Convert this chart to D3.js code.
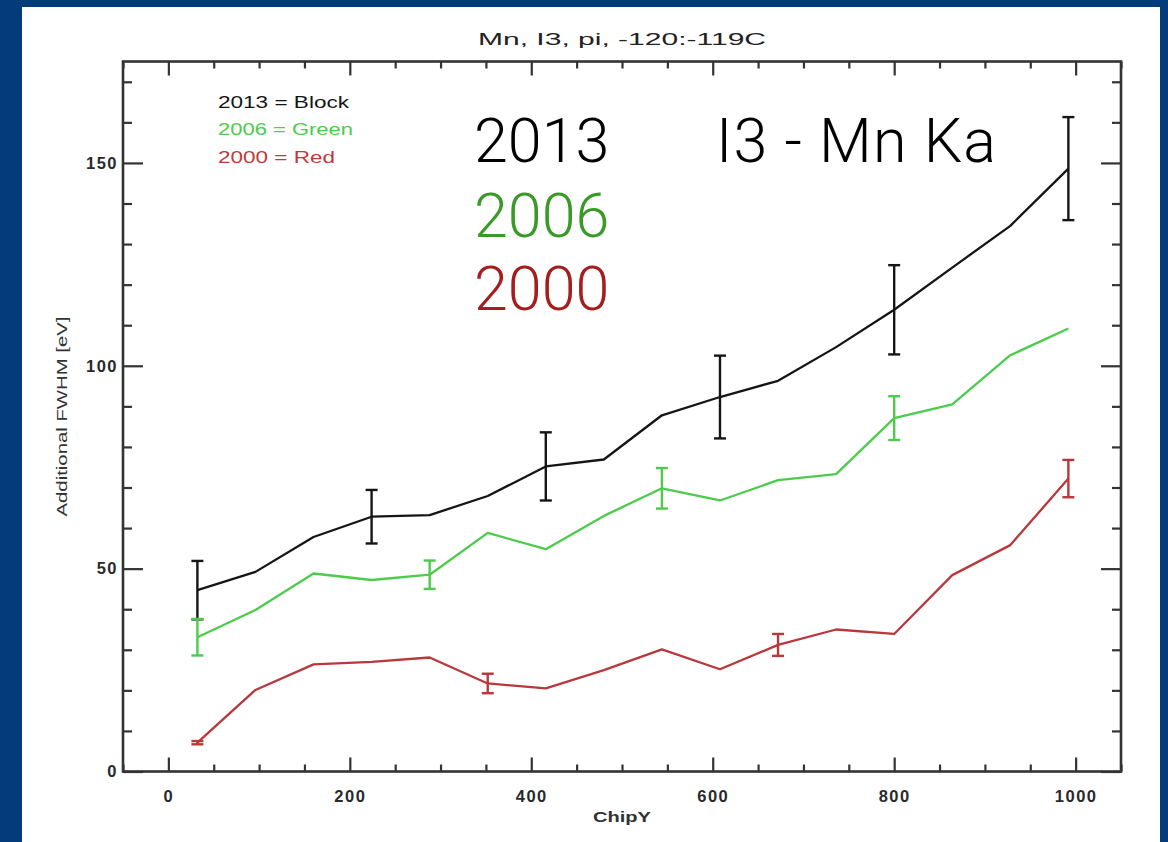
<!DOCTYPE html>
<html>
<head>
<meta charset="utf-8">
<script src="https://cdn.jsdelivr.net/npm/d3@7/dist/d3.min.js"></script>
<style>
  html, body { margin: 0; padding: 0; background: #043b7a; }
  svg { display: block; }
</style>
</head>
<body>
<svg id="chart" width="1168" height="842"></svg>
<script>
// ---- data ----
const chipY = [32, 96, 160, 224, 288, 352, 416, 480, 544, 608, 672, 736, 800, 864, 928, 992];
const fwhm2013 = [44.7, 49.2, 57.8, 62.8, 63.2, 67.9, 75.2, 76.9, 87.8, 92.3, 96.3, 104.6, 113.8, 124.2, 134.5, 148.6];
const fwhm2006 = [33.1, 39.8, 48.8, 47.2, 48.5, 58.8, 54.8, 63.0, 69.8, 66.8, 71.8, 73.3, 87.1, 90.5, 102.6, 109.2];
const fwhm2000 = [7.1, 20.1, 26.4, 27.0, 28.1, 21.7, 20.5, 25.0, 30.1, 25.2, 31.2, 35.0, 33.9, 48.4, 55.8, 72.2];
// error bars: index of point and half-height
const err2013Idx = [0, 3, 6, 9, 12, 15];
const err2013 = [7.2, 6.6, 8.4, 10.2, 11.0, 12.7];
const err2006Idx = [0, 4, 8, 12];
const err2006 = [4.5, 3.5, 5.0, 5.4];
const err2000Idx = [0, 5, 10, 15];
const err2000 = [0.4, 2.4, 2.7, 4.6];
const xMajorTicks = [0, 200, 400, 600, 800, 1000];
const yMajorTicks = [0, 50, 100, 150];
const legendLabels = ["2013 = Block", "2006 = Green", "2000 = Red"];
const bigLabels = ["2013", "2006", "2000"];
const titleText = "Mn, I3, pi, -120:-119C";
const xTitle = "ChipY";
const yTitle = "Additional FWHM [eV]";
const noteText = "I3 - Mn Ka";

// ---- layout ----
const svg = d3.select("#chart");
svg.append("rect").attr("x", 0).attr("y", 0).attr("width", 1168).attr("height", 842).attr("fill", "#043b7a");
svg.append("rect").attr("x", 22).attr("y", 7).attr("width", 1138).attr("height", 835).attr("fill", "#ffffff");

const x = d3.scaleLinear().domain([-50, 1050]).range([123, 1121]);
const y = d3.scaleLinear().domain([0, 175]).range([771.5, 61.5]);

const lineColors = ["#151515", "#4ccb4c", "#b8383c"];
const legendColors = ["#151515", "#4ccb4c", "#c0393b"];
const bigColors = ["#000000", "#3a9a27", "#a51d1d"];

const axisFont = "'Liberation Sans', Arial, sans-serif";
const axisColor = "#333";

// minor ticks
const xMinor = d3.range(-50, 1051, 50).filter(v => !xMajorTicks.includes(v));
const yMinor = d3.range(0, 176, 10).filter(v => !yMajorTicks.includes(v));

function styleAxis(g) {
  g.select(".domain").remove();
  g.selectAll(".tick line").attr("stroke", axisColor).attr("stroke-width", 2.2);
  g.selectAll(".tick text").attr("fill", "#2a2a2a").attr("font-family", axisFont)
    .attr("font-size", 16.5).attr("font-weight", "bold").attr("letter-spacing", 1.5);
}

// bottom axis
svg.append("g").attr("transform", `translate(0,${y(0)})`)
  .call(d3.axisBottom(x).tickValues(xMajorTicks).tickSize(-14).tickPadding(19).tickFormat(d3.format("d")))
  .call(styleAxis);
svg.append("g").attr("transform", `translate(0,${y(0)})`)
  .call(d3.axisBottom(x).tickValues(xMinor).tickSize(-7).tickFormat(""))
  .call(styleAxis);
// top axis
svg.append("g").attr("transform", `translate(0,${y(175)})`)
  .call(d3.axisTop(x).tickValues(xMajorTicks).tickSize(-14).tickFormat(""))
  .call(styleAxis);
svg.append("g").attr("transform", `translate(0,${y(175)})`)
  .call(d3.axisTop(x).tickValues(xMinor).tickSize(-7).tickFormat(""))
  .call(styleAxis);
// left axis
svg.append("g").attr("transform", `translate(${x(-50)},0)`)
  .call(d3.axisLeft(y).tickValues(yMajorTicks).tickSize(-20).tickPadding(5).tickFormat(d3.format("d")))
  .call(styleAxis);
svg.append("g").attr("transform", `translate(${x(-50)},0)`)
  .call(d3.axisLeft(y).tickValues(yMinor).tickSize(-9).tickFormat(""))
  .call(styleAxis);
// right axis
svg.append("g").attr("transform", `translate(${x(1050)},0)`)
  .call(d3.axisRight(y).tickValues(yMajorTicks).tickSize(-20).tickFormat(""))
  .call(styleAxis);
svg.append("g").attr("transform", `translate(${x(1050)},0)`)
  .call(d3.axisRight(y).tickValues(yMinor).tickSize(-9).tickFormat(""))
  .call(styleAxis);

// frame
svg.append("rect")
  .attr("x", x(-50)).attr("y", y(175))
  .attr("width", x(1050) - x(-50)).attr("height", y(0) - y(175))
  .attr("fill", "none").attr("stroke", axisColor).attr("stroke-width", 2.6);

// titles (IDL-style wide vector font)
svg.append("text").attr("x", (x(-50) + x(1050)) / 2).attr("y", 45)
  .attr("text-anchor", "middle").attr("font-family", axisFont).attr("font-size", 17)
  .attr("fill", "#222").attr("textLength", 288).attr("lengthAdjust", "spacingAndGlyphs")
  .text(titleText);
svg.append("text").attr("x", (x(-50) + x(1050)) / 2).attr("y", 822)
  .attr("text-anchor", "middle").attr("font-family", axisFont).attr("font-size", 15.5)
  .attr("font-weight", "bold").attr("fill", "#333")
  .attr("textLength", 58).attr("lengthAdjust", "spacingAndGlyphs").text(xTitle);
svg.append("text")
  .attr("transform", `translate(67,${(y(0) + y(175)) / 2}) rotate(-90)`)
  .attr("text-anchor", "middle").attr("font-family", axisFont).attr("font-size", 15.5)
  .attr("fill", "#333").attr("textLength", 200).attr("lengthAdjust", "spacingAndGlyphs")
  .text(yTitle);

// series
const series = [
  { values: fwhm2013, errIdx: err2013Idx, err: err2013 },
  { values: fwhm2006, errIdx: err2006Idx, err: err2006 },
  { values: fwhm2000, errIdx: err2000Idx, err: err2000 }
];
const line = d3.line().x(d => x(d[0])).y(d => y(d[1]));

series.forEach((s, si) => {
  const pts = chipY.map((c, i) => [c, s.values[i]]);
  svg.append("path").datum(pts).attr("d", line)
    .attr("fill", "none").attr("stroke", lineColors[si]).attr("stroke-width", 2.3)
    .attr("stroke-linejoin", "round");
  const eg = svg.append("g").attr("stroke", lineColors[si]).attr("stroke-width", 2.4);
  s.errIdx.forEach((idx, k) => {
    const cx = x(chipY[idx]);
    const v = s.values[idx], e = s.err[k];
    eg.append("line").attr("x1", cx).attr("x2", cx).attr("y1", y(v - e)).attr("y2", y(v + e));
    eg.append("line").attr("x1", cx - 6).attr("x2", cx + 6).attr("y1", y(v - e)).attr("y2", y(v - e));
    eg.append("line").attr("x1", cx - 6).attr("x2", cx + 6).attr("y1", y(v + e)).attr("y2", y(v + e));
  });
});

// in-plot legend
const legendWidths = [131, 135, 117];
legendLabels.forEach((t, i) => {
  svg.append("text").attr("x", 218).attr("y", 107.5 + i * 27.5)
    .attr("font-family", axisFont).attr("font-size", 16)
    .attr("textLength", legendWidths[i]).attr("lengthAdjust", "spacingAndGlyphs")
    .attr("fill", legendColors[i]).text(t);
});

// big annotations
const bigFont = "'Helvetica Neue', Roboto, Lato, 'Open Sans', sans-serif";
const bigY = [161.7, 236.7, 310];
bigLabels.forEach((t, i) => {
  svg.append("text").attr("x", 474).attr("y", bigY[i])
    .attr("font-family", bigFont).attr("font-size", 61).attr("font-weight", 300)
    .attr("fill", bigColors[i]).text(t);
});
svg.append("text").attr("x", 716).attr("y", 161.7)
  .attr("font-family", bigFont).attr("font-size", 61).attr("font-weight", 300)
  .attr("textLength", 280).attr("lengthAdjust", "spacing")
  .attr("fill", "#000").text(noteText);
</script>
</body>
</html>
